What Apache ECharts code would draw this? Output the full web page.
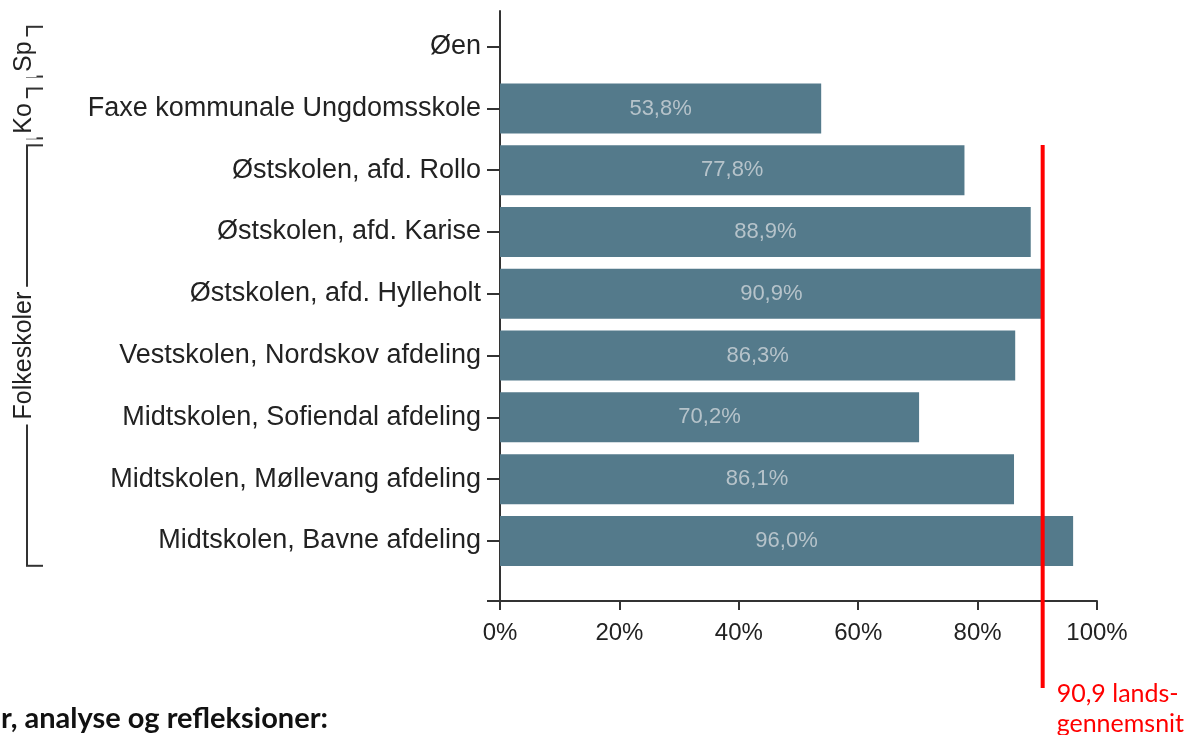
<!DOCTYPE html>
<html>
<head>
<meta charset="utf-8">
<script src="https://cdn.jsdelivr.net/npm/echarts@6.0.0/dist/echarts.min.js"></script>
<style>
html,body{margin:0;padding:0;background:#fff;}
#chart{width:1194px;height:735px;}
</style>
</head>
<body>
<div id="chart"></div>
<script>
// skoler, oppefra og ned
var skoler = ['Øen', 'Faxe kommunale Ungdomsskole', 'Østskolen, afd. Rollo', 'Østskolen, afd. Karise',
    'Østskolen, afd. Hylleholt', 'Vestskolen, Nordskov afdeling', 'Midtskolen, Sofiendal afdeling',
    'Midtskolen, Møllevang afdeling', 'Midtskolen, Bavne afdeling'];
var andel = [null, 53.8, 77.8, 88.9, 90.9, 86.3, 70.2, 86.1, 96.0];
var landsgennemsnit = 90.9;
var landsTekst = '90,9 lands-\ngennemsnit';
// grupper paa venstre side (index fra/til i skoler)
var grupper = ['Sp', 'Ko', 'Folkeskoler'];
var gruppeFra = [0, 1, 2];
var gruppeTil = [0, 1, 8];
var bundTekst = 'r, analyse og refleksioner:';

var font = 'Liberation Sans';
var axisColor = '#333';

function pct(v) {
    return v.toFixed(1).replace('.', ',') + '%';
}

var chart = echarts.init(document.getElementById('chart'));

var option = {
    animation: false,
    grid: [
        {left: 500, top: 15.8, width: 597, height: 556},
        {left: 500, top: 11, width: 597, height: 590},
        {left: 500, top: 145, width: 597, height: 543}
    ],
    xAxis: [
        {gridIndex: 0, type: 'value', min: 0, max: 100, show: false},
        {
            gridIndex: 1, type: 'value', min: 0, max: 100, interval: 20,
            axisLine: {show: true, onZero: false, lineStyle: {color: axisColor, width: 2}},
            axisTick: {show: true, length: 9, lineStyle: {color: axisColor, width: 2}},
            axisLabel: {formatter: '{value}%', margin: 20, fontSize: 24, fontFamily: font, color: '#222'},
            splitLine: {show: false}
        },
        {gridIndex: 2, type: 'value', min: 0, max: 100, show: false}
    ],
    yAxis: [
        {
            gridIndex: 0, type: 'category', data: skoler, inverse: true,
            axisLine: {show: false},
            axisTick: {show: true, length: 13, alignWithLabel: true, lineStyle: {color: axisColor, width: 2}},
            axisLabel: {margin: 19, fontSize: 27, fontFamily: font, color: '#222'}
        },
        {
            gridIndex: 1, type: 'value', min: 0, max: 1,
            axisLine: {show: true, onZero: false, lineStyle: {color: axisColor, width: 2}},
            axisTick: {show: false}, axisLabel: {show: false}, splitLine: {show: false}
        },
        {gridIndex: 2, type: 'value', min: 0, max: 1, show: false}
    ],
    series: [
        {
            type: 'bar',
            xAxisIndex: 0, yAxisIndex: 0,
            data: andel,
            barWidth: 50,
            itemStyle: {color: '#547a8b'},
            label: {
                show: true, position: 'inside',
                color: '#b6c3ca', fontSize: 22, fontFamily: font,
                formatter: function (p) { return pct(p.value); }
            }
        },
        {
            type: 'line',
            xAxisIndex: 2, yAxisIndex: 2,
            data: [[landsgennemsnit, 1], [landsgennemsnit, 0]],
            symbol: 'none',
            lineStyle: {color: '#ff0000', width: 4},
            endLabel: {
                show: true, formatter: landsTekst, color: '#ff0000',
                fontSize: 25, fontFamily: 'Lato', lineHeight: 30,
                align: 'left', offset: [6, 21]
            }
        }
    ]
};
chart.setOption(option);

// klammer og tekst for skolegrupper
var graphic = [];
var lineX = 27, tickEnd = 43;
grupper.forEach(function (navn, i) {
    var a = chart.convertToPixel({yAxisIndex: 0}, skoler[gruppeFra[i]]);
    var b = chart.convertToPixel({yAxisIndex: 0}, skoler[gruppeTil[i]]);
    var half = 556 / skoler.length / 2;
    var top = a - half + 6, bot = b + half - 6;
    if (i < 2) { top += 5; bot += 5; }
    var st = {stroke: axisColor, lineWidth: 2};
    graphic.push({type: 'line', shape: {x1: lineX, y1: top, x2: lineX, y2: bot}, style: st});
    graphic.push({type: 'line', shape: {x1: lineX - 1, y1: top, x2: tickEnd, y2: top}, style: st});
    graphic.push({type: 'line', shape: {x1: lineX - 1, y1: bot, x2: tickEnd, y2: bot}, style: st});
    graphic.push({
        type: 'text', x: 24, y: (top + bot) / 2 + (i < 2 ? 5 : 0), rotation: Math.PI / 2, z: 10,
        style: {
            text: navn, fontSize: 25, fontFamily: font, fill: '#222',
            align: 'center', verticalAlign: 'middle',
            backgroundColor: '#fff', padding: [0, 5]
        }
    });
});

// x-aksen stikker lidt ud til venstre
var x0 = chart.convertToPixel({xAxisIndex: 1}, 0);
var y0 = chart.convertToPixel({yAxisIndex: 1}, 0);
graphic.push({type: 'line', shape: {x1: x0 - 13, y1: y0, x2: x0, y2: y0}, style: {stroke: axisColor, lineWidth: 2}});

graphic.push({
    type: 'text', left: 1, top: 704,
    style: {text: bundTekst, fontSize: 29, fontWeight: 'bold', fontFamily: 'Lato', fill: '#111'}
});

chart.setOption({graphic: graphic});
</script>
</body>
</html>
